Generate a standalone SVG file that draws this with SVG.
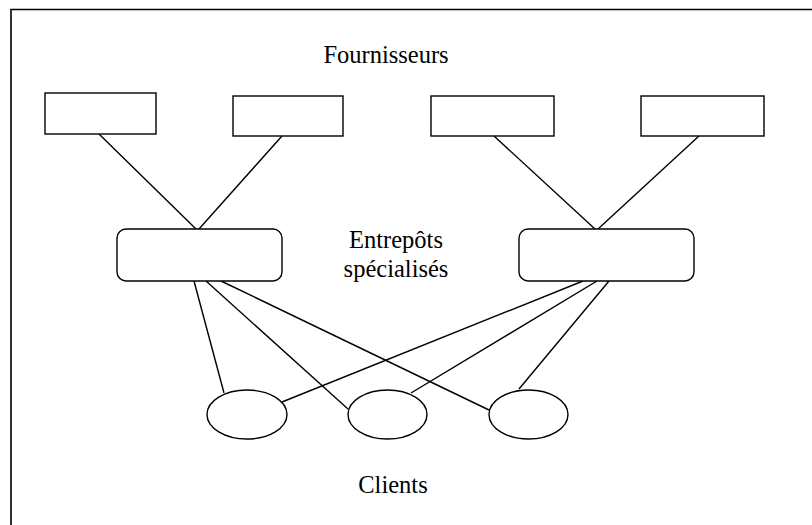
<svg xmlns="http://www.w3.org/2000/svg" width="812" height="525" viewBox="0 0 812 525">
<style>
.s{fill:#fff;stroke:#000;stroke-width:1.4}
.c line{stroke:#000;stroke-width:1.4}
text{font-family:"Liberation Serif","Times New Roman",serif;font-size:24.5px;fill:#000;text-anchor:middle}
</style>
<rect x="0" y="0" width="812" height="525" fill="#fff"/>
<path d="M11 530 V9.5 H820" fill="none" stroke="#000" stroke-width="1.6"/>
<g class="c" id="connectors">
<line x1="99" y1="134" x2="196" y2="229"/>
<line x1="282" y1="136" x2="199" y2="229"/>
<line x1="494" y1="136" x2="595" y2="229"/>
<line x1="699" y1="136" x2="598" y2="229"/>
<line x1="194" y1="281" x2="224" y2="393"/>
<line x1="206" y1="281" x2="348" y2="409"/>
<line x1="221" y1="281" x2="489" y2="410"/>
<line x1="583" y1="281" x2="282" y2="402"/>
<line x1="597" y1="281" x2="411" y2="393"/>
<line x1="609" y1="281" x2="519" y2="389"/>
</g>
<g id="f1"><rect class="s" x="45" y="93" width="111" height="41"/></g>
<g id="f2"><rect class="s" x="233" y="96" width="110" height="40"/></g>
<g id="f3"><rect class="s" x="431" y="96" width="123" height="40"/></g>
<g id="f4"><rect class="s" x="641" y="96" width="123" height="40"/></g>
<g id="e1"><rect class="s" x="117" y="229" width="165" height="52" rx="9"/></g>
<g id="e2"><rect class="s" x="519" y="229" width="175" height="52" rx="9"/></g>
<g id="c1"><ellipse class="s" cx="247" cy="414.5" rx="40" ry="24.5"/></g>
<g id="c2"><ellipse class="s" cx="387.5" cy="414.5" rx="39.5" ry="24.5"/></g>
<g id="c3"><ellipse class="s" cx="528.5" cy="414.5" rx="39.5" ry="24.5"/></g>
<text x="386" y="63">Fournisseurs</text>
<text x="396" y="248">Entrepôts</text>
<text x="396" y="277">spécialisés</text>
<text x="393" y="493">Clients</text>
</svg>
